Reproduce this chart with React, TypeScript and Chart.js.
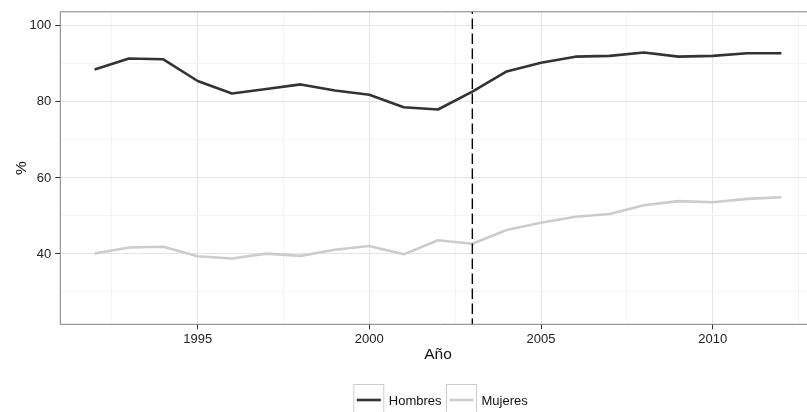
import React, { useEffect, useRef } from "react";
import { Chart, registerables } from "chart.js";

Chart.register(...registerables);

const years = [1992, 1993, 1994, 1995, 1996, 1997, 1998, 1999, 2000, 2001, 2002, 2003, 2004, 2005, 2006, 2007, 2008, 2009, 2010, 2011, 2012];
const hombres = [88.5, 91.4, 91.2, 85.5, 82.2, 83.4, 84.6, 83.0, 81.9, 78.6, 78.0, 82.7, 88.0, 90.3, 91.9, 92.1, 93.0, 91.9, 92.1, 92.8, 92.8];
const mujeres = [40.1, 41.7, 41.9, 39.4, 38.8, 40.1, 39.5, 41.1, 42.1, 39.9, 43.6, 42.7, 46.3, 48.2, 49.8, 50.5, 52.8, 53.9, 53.6, 54.5, 54.9];
const seriesNames = ["Hombres", "Mujeres"];
const xTickValues = [1992.5, 1995, 1997.5, 2000, 2002.5, 2005, 2007.5, 2010, 2012.5];
const yTickValues = [30, 40, 50, 60, 70, 80, 90, 100];
const breakYear = 2003;
const xTitle = "Año";
const yTitle = "%";

const FONT = "'Liberation Sans', Arial, Helvetica, sans-serif";
const COLORS = ["#333333", "#cccccc"];
const MAJOR = "#e5e5e5";
const MINOR = "#f4f4f4";

const isMajorX = (v: number) => Number.isInteger(v) && v % 5 === 0;
const isMajorY = (v: number) => v % 20 === 0;

const overlayPlugin = {
  id: "overlay",
  afterDatasetsDraw(chart: any) {
    const { ctx, chartArea } = chart;
    const xs = chart.scales.x;
    const px = xs.getPixelForValue(breakYear);
    ctx.save();
    ctx.strokeStyle = "#000";
    ctx.lineWidth = 1.4;
    ctx.setLineDash([10.5, 4.5]);
    ctx.lineDashOffset = 8.2;
    ctx.beginPath();
    ctx.moveTo(px, chartArea.top);
    ctx.lineTo(px, chartArea.bottom);
    ctx.stroke();
    ctx.setLineDash([]);
    ctx.strokeStyle = "#7f7f7f";
    ctx.lineWidth = 1;
    ctx.beginPath();
    ctx.moveTo(chartArea.right + 5, chartArea.top);
    ctx.lineTo(chartArea.left, chartArea.top);
    ctx.lineTo(chartArea.left, chartArea.bottom);
    ctx.lineTo(chartArea.right + 5, chartArea.bottom);
    ctx.stroke();
    ctx.restore();
  },
  afterDraw(chart: any) {
    const { ctx, chartArea } = chart;
    ctx.save();
    ctx.fillStyle = "#111";
    ctx.font = `15.5px ${FONT}`;
    ctx.textAlign = "center";
    ctx.textBaseline = "middle";
    ctx.fillText(xTitle, (chartArea.left + chartArea.right) / 2, 355);
    ctx.save();
    ctx.translate(21.5, (chartArea.top + chartArea.bottom) / 2);
    ctx.rotate(-Math.PI / 2);
    ctx.fillText(yTitle, 0, 0);
    ctx.restore();

    // legend
    ctx.font = `13px ${FONT}`;
    ctx.textAlign = "left";
    const boxW = 31;
    const boxTop = 384;
    const boxH = 31;
    const gap = 4.5;
    const textW = seriesNames.map((n) => ctx.measureText(n).width);
    let x = 353.3;
    seriesNames.forEach((name, i) => {
      ctx.fillStyle = "#fff";
      ctx.fillRect(x, boxTop, boxW, boxH);
      ctx.strokeStyle = "#cccccc";
      ctx.lineWidth = 1;
      ctx.strokeRect(x + 0.5, boxTop + 0.5, boxW - 1, boxH - 1);
      ctx.strokeStyle = COLORS[i];
      ctx.lineWidth = 2.6;
      ctx.beginPath();
      ctx.moveTo(x + 3.5, boxTop + 16);
      ctx.lineTo(x + boxW - 3.5, boxTop + 16);
      ctx.stroke();
      ctx.fillStyle = "#111";
      ctx.textBaseline = "middle";
      ctx.fillText(name, x + boxW + gap, boxTop + 17);
      x += boxW + gap + textW[i] + 4.5;
    });
    ctx.restore();
  },
};

export default function App() {
  const ref = useRef<HTMLCanvasElement | null>(null);
  useEffect(() => {
    if (!ref.current) return;
    const toPts = (arr: number[]) => years.map((y, i) => ({ x: y, y: arr[i] }));
    const chart = new Chart(ref.current, {
      type: "line",
      data: {
        datasets: [
          {
            label: seriesNames[0],
            data: toPts(hombres),
            borderColor: COLORS[0],
            borderWidth: 2.6,
            pointRadius: 0,
            borderJoinStyle: "round",
            borderCapStyle: "butt",
            tension: 0,
          },
          {
            label: seriesNames[1],
            data: toPts(mujeres),
            borderColor: COLORS[1],
            borderWidth: 2.6,
            pointRadius: 0,
            borderJoinStyle: "round",
            borderCapStyle: "butt",
            tension: 0,
          },
        ],
      },
      options: {
        animation: false,
        responsive: false,
        devicePixelRatio: 1,
        layout: { padding: { left: 0, top: 11, right: 24.3, bottom: 57.7 } },
        plugins: { legend: { display: false }, tooltip: { enabled: false } },
        scales: {
          x: {
            type: "linear",
            min: 1991,
            max: 2013,
            afterBuildTicks: (s: any) => {
              s.ticks = xTickValues.map((v) => ({ value: v }));
            },
            afterFit: (s: any) => {
              s.height = 30;
            },
            border: { display: false },
            grid: {
              color: (c: any) => (isMajorX(c.tick.value) ? MAJOR : MINOR),
              tickColor: (c: any) => (isMajorX(c.tick.value) ? "#333" : "rgba(0,0,0,0)"),
              tickLength: 5,
              lineWidth: 1,
            },
            ticks: {
              autoSkip: false,
              maxRotation: 0,
              padding: 2,
              color: "#222",
              font: { family: FONT, size: 13 },
              callback: (v: any) => (isMajorX(Number(v)) ? String(v) : ""),
            },
          },
          y: {
            type: "linear",
            min: 21.5,
            max: 103.7,
            afterBuildTicks: (s: any) => {
              s.ticks = yTickValues.map((v) => ({ value: v }));
            },
            afterFit: (s: any) => {
              s.width = 60.3;
            },
            border: { display: false },
            grid: {
              color: (c: any) => (isMajorY(c.tick.value) ? MAJOR : MINOR),
              tickColor: (c: any) => (isMajorY(c.tick.value) ? "#333" : "rgba(0,0,0,0)"),
              tickLength: 5,
              lineWidth: 1,
            },
            ticks: {
              autoSkip: false,
              padding: 4,
              color: "#222",
              font: { family: FONT, size: 13 },
              callback: (v: any) => (isMajorY(Number(v)) ? String(v) : ""),
            },
          },
        },
      },
      plugins: [overlayPlugin],
    } as any);
    return () => chart.destroy();
  }, []);
  return (
    <div style={{ position: "fixed", left: 0, top: 0, width: 807, height: 412, background: "#fff", overflow: "hidden" }}>
      <canvas ref={ref} width={840} height={412} style={{ width: 840, height: 412, display: "block" }} />
    </div>
  );
}
